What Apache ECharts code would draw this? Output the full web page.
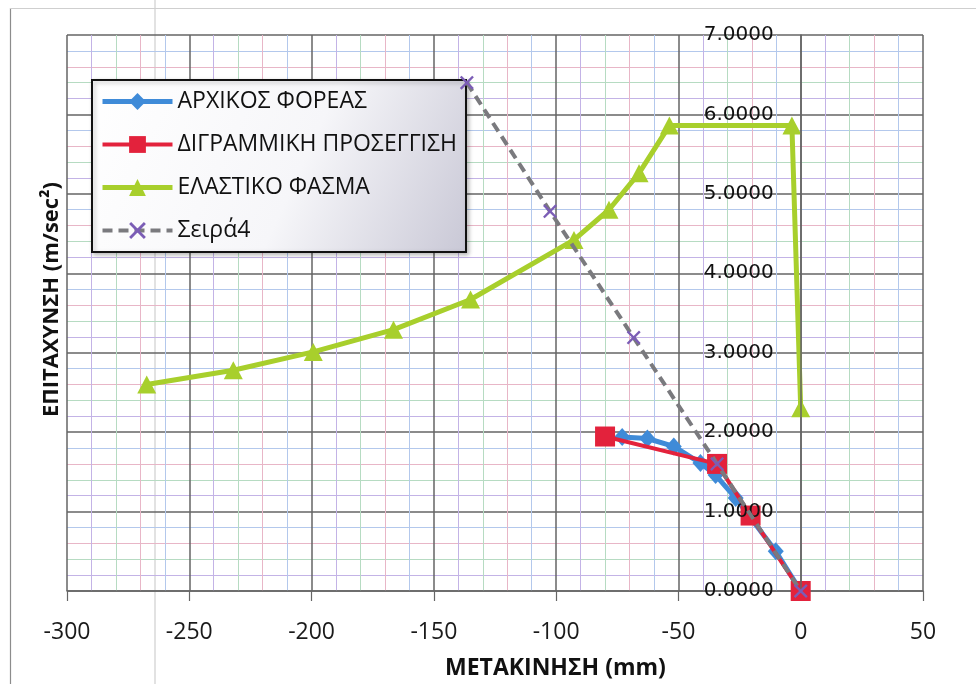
<!DOCTYPE html>
<html>
<head>
<meta charset="utf-8">
<script src="https://cdn.jsdelivr.net/npm/echarts@6/dist/echarts.min.js"></script>
<style>
  html, body { margin: 0; padding: 0; background: #ffffff; }
  #chart { width: 976px; height: 684px; }
</style>
</head>
<body>
<div id="chart"></div>
<script>
// Capacity curve vs. bilinear fit vs. elastic spectrum (displacement in mm, acceleration in m/sec²)

// ΑΡΧΙΚΟΣ ΦΟΡΕΑΣ (original structure)
const structX = [-73, -62.7, -51.9, -41, -34.8, -26.6, -10.2, 0];
const structY = [1.94, 1.92, 1.82, 1.61, 1.46, 1.17, 0.50, 0];

// ΔΙΓΡΑΜΜΙΚΗ ΠΡΟΣΕΓΓΙΣΗ (bilinear approximation)
const bilinX = [-80, -34.2, -20.5, 0];
const bilinY = [1.945, 1.60, 0.95, 0];

// ΕΛΑΣΤΙΚΟ ΦΑΣΜΑ (elastic spectrum)
const specX = [-267.4, -232, -199.3, -166.5, -135, -92.7, -78.4, -66.1, -53.7, -3.6, 0];
const specY = [2.60, 2.78, 3.01, 3.29, 3.67, 4.42, 4.80, 5.26, 5.86, 5.86, 2.30];

// Σειρά4 (initial stiffness line)
const s4X = [-136.5, -102.5, -68.3, -34.2, 0];
const s4Y = [6.40, 4.78, 3.19, 1.60, 0];

const seriesNames = ['ΑΡΧΙΚΟΣ ΦΟΡΕΑΣ', 'ΔΙΓΡΑΜΜΙΚΗ ΠΡΟΣΕΓΓΙΣΗ', 'ΕΛΑΣΤΙΚΟ ΦΑΣΜΑ', 'Σειρά4'];

// axis ranges
const xMin = -300, xMax = 50, xStep = 50, xMinorStep = 10;
const yMin = 0, yMax = 7, yStep = 1, yMinorStep = 0.2;

const pairs = (xs, ys) => xs.map((x, i) => [x, ys[i]]);

// plot rectangle
const gridLeft = 67, gridRight = 53, gridTop = 35, gridBottom = 93;
const plotWidth = 976 - gridLeft - gridRight;
// the value axis crosses at x = 0: shift it in from the right edge of the plot
const yAxisShift = -(xMax - 0) / (xMax - xMin) * plotWidth;

const majorColor = '#656565';
// faint multi-tinted minor grid, transparent where a major line sits
const minorColors = ['rgba(0,0,0,0)', '#c3b3e6', '#b6dbc2', '#e8b6c7', '#b3c8ec'];

const crossPath = 'path://M0,1.2L1.2,0L5,3.8L8.8,0L10,1.2L6.2,5L10,8.8L8.8,10L5,6.2L1.2,10L0,8.8L3.8,5Z';

const chart = echarts.init(document.getElementById('chart'), null, { renderer: 'canvas' });

chart.setOption({
  backgroundColor: '#ffffff',
  animation: false,
  grid: {
    left: gridLeft, right: gridRight, top: gridTop, bottom: gridBottom,
    containLabel: false, outerBoundsMode: 'none'
  },
  legend: {
    orient: 'vertical',
    left: 92,
    top: 80,
    padding: [10, 9, 10, 8],
    itemGap: 20,
    itemWidth: 70,
    itemHeight: 21,
    borderColor: '#111111',
    borderWidth: 2,
    borderRadius: 0,
    backgroundColor: new echarts.graphic.LinearGradient(0, 0, 1, 1, [
      { offset: 0, color: '#ffffff' },
      { offset: 0.55, color: '#f6f6f9' },
      { offset: 1, color: '#c9c8d6' }
    ]),
    shadowColor: 'rgba(0,0,0,0.25)',
    shadowBlur: 4,
    shadowOffsetX: 2,
    shadowOffsetY: 2,
    textStyle: { fontFamily: 'Open Sans', fontSize: 23, color: '#111111' },
    data: [
      { name: seriesNames[0], lineStyle: { width: 5 } },
      { name: seriesNames[1], lineStyle: { width: 4 } },
      { name: seriesNames[2], lineStyle: { width: 5 } },
      { name: seriesNames[3], lineStyle: { width: 4 } }
    ]
  },
  xAxis: [
    {
      type: 'value', min: xMin, max: xMax, interval: xStep,
      axisLine: { show: true, onZero: false, lineStyle: { color: majorColor, width: 1.5 } },
      axisTick: { show: true, inside: false, length: 10, lineStyle: { color: majorColor, width: 1.2 } },
      axisLabel: { margin: 30, fontFamily: 'Open Sans', fontSize: 23, color: '#1a1a1a' },
      splitLine: { show: true, lineStyle: { color: majorColor, width: 1.5 } }
    },
    {
      type: 'value', min: xMin, max: xMax, interval: xMinorStep,
      axisLine: { show: false }, axisTick: { show: false }, axisLabel: { show: false },
      splitLine: { show: true, lineStyle: { color: minorColors, width: 1 } }
    }
  ],
  yAxis: [
    {
      type: 'value', min: yMin, max: yMax, interval: yStep, z: 5,
      position: 'right', offset: yAxisShift,
      axisLine: { show: true, onZero: false, lineStyle: { color: majorColor, width: 1.5 } },
      axisTick: { show: false },
      axisLabel: {
        inside: true, margin: 27, fontFamily: 'DejaVu Sans', fontSize: 20, color: '#111111',
        formatter: v => v.toFixed(4)
      },
      splitLine: { show: false }
    },
    {
      type: 'value', min: yMin, max: yMax, interval: yStep, position: 'left',
      axisLine: { show: false }, axisTick: { show: false }, axisLabel: { show: false },
      splitLine: { show: true, lineStyle: { color: majorColor, width: 1.5 } }
    },
    {
      type: 'value', min: yMin, max: yMax, interval: yMinorStep, position: 'left',
      axisLine: { show: false }, axisTick: { show: false }, axisLabel: { show: false },
      splitLine: { show: true, lineStyle: { color: minorColors, width: 1 } }
    }
  ],
  graphic: [
    // outer frame edges and the faint vertical seam
    { type: 'line', silent: true, z: 100, shape: { x1: 10.5, y1: 8, x2: 10.5, y2: 684 }, style: { stroke: '#8c8c8c', lineWidth: 1.2 } },
    { type: 'line', silent: true, z: 100, shape: { x1: 10, y1: 8.5, x2: 976, y2: 8.5 }, style: { stroke: '#cfcfcf', lineWidth: 1 } },
    { type: 'line', silent: true, z: -10, shape: { x1: 155, y1: 0, x2: 155, y2: 684 }, style: { stroke: '#e2e2e2', lineWidth: 2 } },
    {
      type: 'text', left: 445, top: 657,
      style: { text: 'ΜΕΤΑΚΙΝΗΣΗ (mm)', font: 'bold 23px "Open Sans"', fill: '#111111' }
    },
    {
      type: 'text', x: 41, y: 417, rotation: Math.PI / 2,
      style: { text: 'ΕΠΙΤΑΧΥΝΣΗ (m/sec²)', font: 'bold 22px "Open Sans"', fill: '#111111' }
    }
  ],
  series: [
    {
      name: seriesNames[0], type: 'line', data: pairs(structX, structY), z: 2,
      symbol: 'diamond', symbolSize: [16, 18],
      lineStyle: { color: '#3f8bd8', width: 5 },
      itemStyle: { color: '#3f8bd8' }
    },
    {
      name: seriesNames[1], type: 'line', data: pairs(bilinX, bilinY), z: 3,
      symbol: 'rect', symbolSize: 20,
      lineStyle: { color: '#e3223c', width: 4 },
      itemStyle: { color: '#e3223c' }
    },
    {
      name: seriesNames[2], type: 'line', data: pairs(specX, specY), z: 4,
      symbol: 'triangle', symbolSize: [19, 18],
      lineStyle: { color: '#a8cf2c', width: 5 },
      itemStyle: { color: '#a8cf2c' }
    },
    {
      name: seriesNames[3], type: 'line', data: pairs(s4X, s4Y), z: 5,
      symbol: crossPath, symbolSize: 14,
      lineStyle: { color: '#7a7a7e', width: 4, type: [10, 6] },
      itemStyle: { color: '#7b5db6' }
    }
  ]
});
</script>
</body>
</html>
